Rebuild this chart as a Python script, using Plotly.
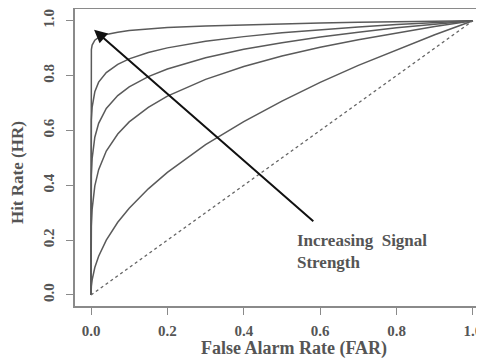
import plotly.graph_objects as go

# False alarm rate grid (x) shared by all ROC curves
far = [0, 1e-6, 1e-4, 0.001, 0.003, 0.01, 0.02, 0.04, 0.07, 0.1, 0.15, 0.2,
       0.3, 0.4, 0.5, 0.6, 0.7, 0.8, 0.9, 1.0]

# Hit rates, strongest signal first
hr_curve1 = [0, 0.802, 0.863, 0.895, 0.911, 0.929, 0.939, 0.950, 0.958, 0.964,
             0.970, 0.975, 0.981, 0.985, 0.989, 0.992, 0.994, 0.996, 0.998, 1.0]
hr_curve2 = [0, 0.407, 0.550, 0.638, 0.685, 0.741, 0.776, 0.811, 0.841, 0.861,
             0.884, 0.901, 0.925, 0.942, 0.956, 0.967, 0.977, 0.986, 0.993, 1.0]
hr_curve3 = [0, 0.191, 0.331, 0.437, 0.498, 0.575, 0.626, 0.680, 0.727, 0.759,
             0.796, 0.824, 0.865, 0.896, 0.920, 0.941, 0.958, 0.974, 0.987, 1.0]
hr_curve4 = [0, 0.063, 0.158, 0.251, 0.313, 0.398, 0.457, 0.525, 0.587, 0.631,
             0.684, 0.725, 0.786, 0.833, 0.871, 0.903, 0.931, 0.956, 0.979, 1.0]
hr_curve5 = [0, 0.001, 0.010, 0.032, 0.055, 0.100, 0.141, 0.200, 0.265, 0.316,
             0.387, 0.447, 0.548, 0.632, 0.707, 0.775, 0.837, 0.894, 0.949, 1.0]
chance_far = [0, 1]
chance_hr = [0, 1]

tick_vals = [0, 0.2, 0.4, 0.6, 0.8, 1.0]
tick_text = ["0.0", "0.2", "0.4", "0.6", "0.8", "1.0"]

FONT = "Liberation Serif"
TXT = "#555555"
AXC = "#8a8a8a"

fig = go.Figure()
for hr in [hr_curve1, hr_curve2, hr_curve3, hr_curve4, hr_curve5]:
    fig.add_trace(go.Scatter(x=far, y=hr, mode="lines",
                             line=dict(color="#5a5a5a", width=1.5),
                             hoverinfo="skip", showlegend=False))
fig.add_trace(go.Scatter(x=chance_far, y=chance_hr, mode="lines",
                         line=dict(color="#666666", width=1.4, dash="dot"),
                         hoverinfo="skip", showlegend=False))

# Arrow
fig.add_annotation(x=0.008, y=0.967, ax=0.586, ay=0.264,
                   xref="x", yref="y", axref="x", ayref="y",
                   showarrow=True, arrowhead=2, arrowsize=1.3, arrowwidth=2,
                   arrowcolor="#111111", text="")
fig.add_annotation(x=0.534, y=0.157, xref="x", yref="y",
                   text="<b>Increasing  Signal<br>Strength</b>", showarrow=False,
                   xanchor="left", yanchor="middle", align="left",
                   font=dict(family=FONT, size=17, color=TXT))

# Axis titles
fig.add_annotation(x=0.535, y=-(348 - 306) / 297, xref="paper", yref="paper",
                   text="<b>False Alarm Rate (FAR)</b>", showarrow=False,
                   xanchor="center", yanchor="middle",
                   font=dict(family=FONT, size=18, color=TXT))
fig.add_annotation(x=-0.139, y=0.448, xref="paper", yref="paper",
                   text="<b>Hit Rate (HR)</b>", showarrow=False, textangle=-90,
                   xanchor="center", yanchor="middle",
                   font=dict(family=FONT, size=17, color=TXT))

fig.update_xaxes(range=[-0.0419, 1.029], showgrid=False, zeroline=False,
                 showline=True, linecolor=AXC, linewidth=1.5, mirror=True,
                 ticks="outside", ticklen=7, tickcolor=AXC, tickwidth=1.3,
                 tickvals=tick_vals, ticktext=["<b>%s</b>" % t for t in tick_text],
                 tickfont=dict(family=FONT, size=15, color=TXT),
                 ticklabelstandoff=3, automargin=False)
fig.update_yaxes(range=[-0.0402, 1.0427], showgrid=False, zeroline=False,
                 showline=True, linecolor=AXC, linewidth=1.5, mirror=False,
                 ticks="outside", ticklen=7, tickcolor=AXC, tickwidth=1.3,
                 tickvals=tick_vals, ticktext=["<b>%s</b>" % t for t in tick_text],
                 tickangle=-90, tickfont=dict(family=FONT, size=15, color=TXT),
                 ticklabelstandoff=6, automargin=False)

# The page body has an 8px default margin, so the figure is offset by 8px.
fig.update_layout(width=476, height=350,
                  margin=dict(l=67, r=0, t=1, b=52, autoexpand=False),
                  paper_bgcolor="white", plot_bgcolor="white",
                  showlegend=False)

fig.write_html("out.html")
